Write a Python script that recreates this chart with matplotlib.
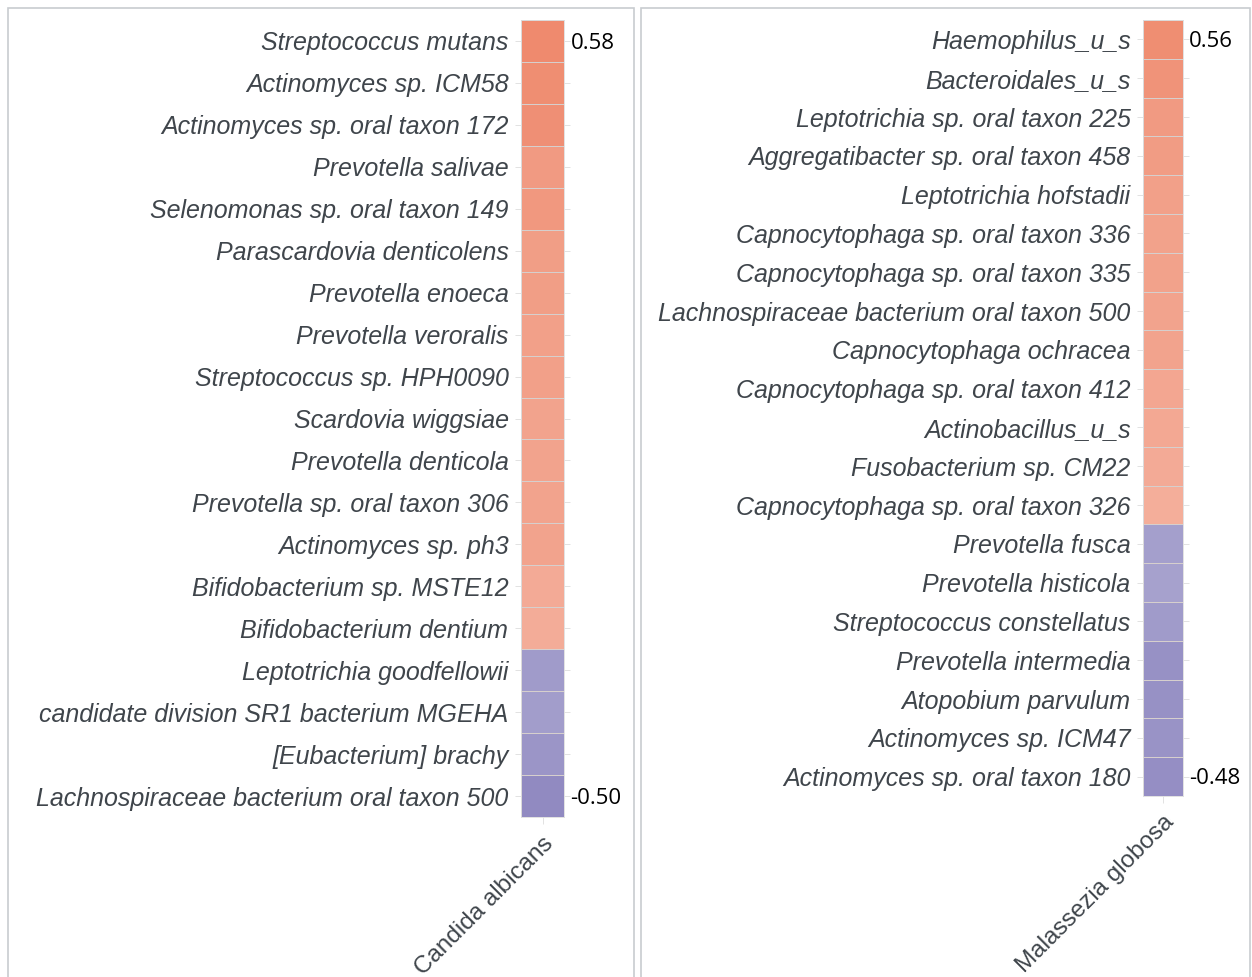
import numpy as np
import matplotlib
matplotlib.use("Agg")
import matplotlib.pyplot as plt
from matplotlib.colors import LinearSegmentedColormap, Normalize
from matplotlib.patches import Rectangle

# ====== DATA ======
candida_taxa = [
    "Streptococcus mutans", "Actinomyces sp. ICM58", "Actinomyces sp. oral taxon 172",
    "Prevotella salivae", "Selenomonas sp. oral taxon 149", "Parascardovia denticolens",
    "Prevotella enoeca", "Prevotella veroralis", "Streptococcus sp. HPH0090",
    "Scardovia wiggsiae", "Prevotella denticola", "Prevotella sp. oral taxon 306",
    "Actinomyces sp. ph3", "Bifidobacterium sp. MSTE12", "Bifidobacterium dentium",
    "Leptotrichia goodfellowii", "candidate division SR1 bacterium MGEHA",
    "[Eubacterium] brachy", "Lachnospiraceae bacterium oral taxon 500",
]
candida_r = [0.58, 0.56, 0.55, 0.50, 0.51, 0.48, 0.48, 0.47, 0.47, 0.45,
             0.45, 0.45, 0.45, 0.42, 0.41, -0.43, -0.42, -0.45, -0.50]

malassezia_taxa = [
    "Haemophilus_u_s", "Bacteroidales_u_s", "Leptotrichia sp. oral taxon 225",
    "Aggregatibacter sp. oral taxon 458", "Leptotrichia hofstadii",
    "Capnocytophaga sp. oral taxon 336", "Capnocytophaga sp. oral taxon 335",
    "Lachnospiraceae bacterium oral taxon 500", "Capnocytophaga ochracea",
    "Capnocytophaga sp. oral taxon 412", "Actinobacillus_u_s",
    "Fusobacterium sp. CM22", "Capnocytophaga sp. oral taxon 326",
    "Prevotella fusca", "Prevotella histicola", "Streptococcus constellatus",
    "Prevotella intermedia", "Atopobium parvulum", "Actinomyces sp. ICM47",
    "Actinomyces sp. oral taxon 180",
]
malassezia_r = [0.56, 0.53, 0.50, 0.49, 0.47, 0.46, 0.46, 0.45, 0.45, 0.44,
                0.43, 0.42, 0.40, -0.41, -0.40, -0.43, -0.47, -0.47, -0.46, -0.48]

fungi = ["Candida albicans", "Malassezia globosa"]

# purple -> white -> salmon
cmap = LinearSegmentedColormap.from_list(
    "corr", [(0.0, "#7B73B5"), (0.5, "#FFFFFF"), (1.0, "#EE8669")])
norm = Normalize(vmin=-0.6, vmax=0.6)

fig = plt.figure(figsize=(12.52, 9.77), dpi=100)
W, H = 1252, 977


def px_rect(x0, y0, x1, y1):
    # pixel box (top-left origin) -> figure fraction [l, b, w, h]
    return [x0 / W, 1 - y1 / H, (x1 - x0) / W, (y1 - y0) / H]


# panel frames
for x0, x1 in [(8, 634), (641, 1250)]:
    fig.patches.append(Rectangle((x0 / W, -0.01), (x1 - x0) / W, 1 - 8 / H + 0.01,
                                 transform=fig.transFigure, fill=False,
                                 edgecolor="#C8CCD0", linewidth=1.2))

panels = [
    (candida_taxa, candida_r, fungi[0], px_rect(521, 20, 564, 817)),
    (malassezia_taxa, malassezia_r, fungi[1], px_rect(1143, 20, 1183, 796)),
]

for taxa, vals, fungus, rect in panels:
    ax = fig.add_axes(rect)
    n = len(vals)
    data = np.array(vals).reshape(-1, 1)
    ax.pcolormesh(np.arange(2), np.arange(n + 1), data, cmap=cmap, norm=norm,
                  edgecolors="#D6CFCD", linewidth=0.5)
    ax.set_xlim(0, 1)
    ax.set_ylim(n, 0)
    ax.set_yticks(np.arange(n) + 0.5)
    ax.set_yticklabels(taxa, fontsize=18, style="italic", color="#3F454B",
                       family="Liberation Sans")
    ax.set_xticks([0.5])
    ax.set_xticklabels([fungus], fontsize=17.5, color="#3F454B", rotation=45,
                       ha="right", rotation_mode="anchor", family="Liberation Sans")
    ax.tick_params(axis="y", length=4, width=0.6, color="#DDDDDD", pad=5,
                   right=True)
    ax.tick_params(axis="x", length=5, width=0.6, color="#DDDDDD", pad=6)
    for s in ax.spines.values():
        s.set_color("#DDDDDD")
        s.set_linewidth(0.6)

    # max / min value labels
    i_max = int(np.argmax(vals))
    i_min = int(np.argmin(vals))
    for i in (i_max, i_min):
        ax.text(1.15, i + 0.55, f"{vals[i]:.2f}", transform=ax.get_yaxis_transform(),
                va="center", ha="left", fontsize=16, color="black",
                family="Open Sans")

fig.savefig("out.png", dpi=100)
